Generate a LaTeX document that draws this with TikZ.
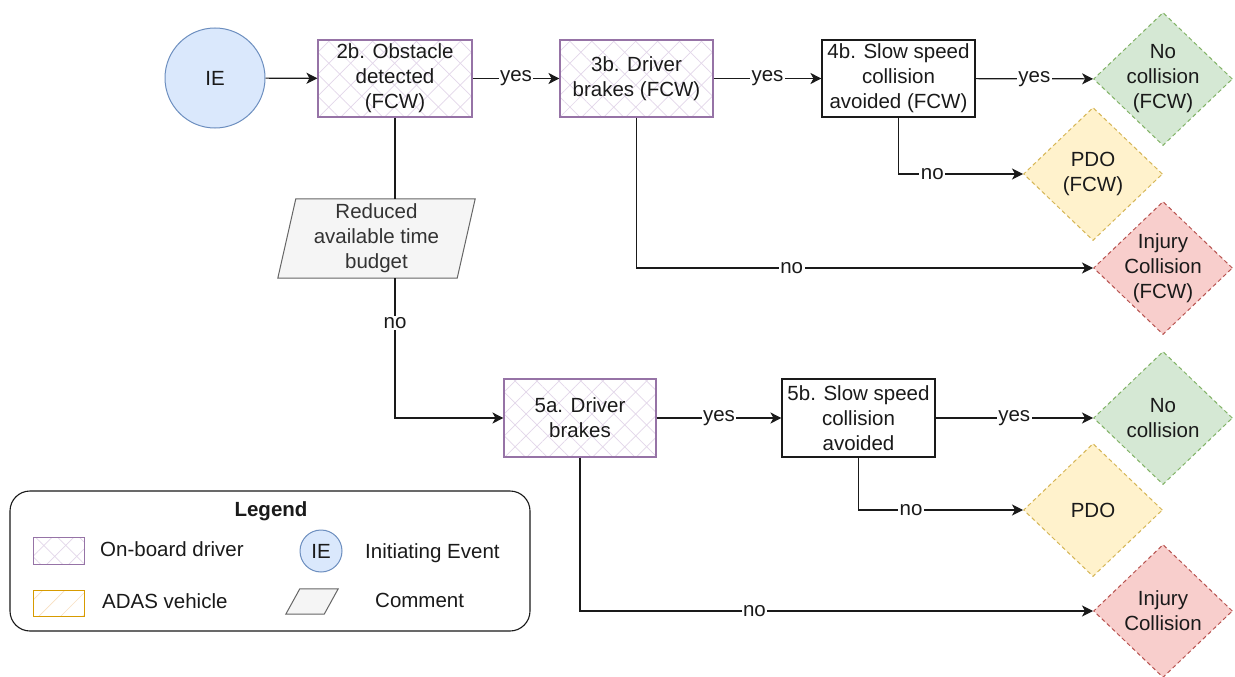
\documentclass[tikz,border=0pt]{standalone}
\usepackage{fontspec}
\setmainfont{Liberation Sans}
\usetikzlibrary{arrows.meta,shapes.geometric,patterns.meta,backgrounds}

\definecolor{ink}{HTML}{1A1A1A}
\definecolor{drvline}{HTML}{9673A6}
\definecolor{drvhatch}{HTML}{E3D7EA}
\definecolor{adasline}{HTML}{D79B00}
\definecolor{adashatch}{HTML}{F8E0C2}
\definecolor{iefill}{HTML}{DAE8FC}
\definecolor{ieline}{HTML}{6C8EBF}
\definecolor{cmfill}{HTML}{F5F5F5}
\definecolor{cmline}{HTML}{666666}
\definecolor{cmtext}{HTML}{333333}
\definecolor{okfill}{HTML}{D5E8D4}
\definecolor{okline}{HTML}{82B366}
\definecolor{pdofill}{HTML}{FFF2CC}
\definecolor{pdoline}{HTML}{D6B656}
\definecolor{injfill}{HTML}{F8CECC}
\definecolor{injline}{HTML}{B85450}

\tikzset{
  wire/.style={line width=1.2pt, draw=ink},
  arr/.style={wire, -{Stealth[length=11pt,width=11pt,inset=3pt]}},
  lbl/.style={fill=white, inner sep=1.5pt, text=ink},
  crosshatch/.style={
    preaction={fill=white},
    preaction={pattern={Lines[angle=45,distance=15.5pt,line width=0.7pt]}, pattern color=drvhatch},
    pattern={Lines[angle=-45,distance=15.5pt,line width=0.7pt]}, pattern color=drvhatch},
  driverbox/.style={rectangle, crosshatch, draw=drvline, line width=1.1pt,
    minimum width=154pt, minimum height=77pt, inner sep=0pt, align=center, text=ink},
  plainbox/.style={rectangle, fill=white, draw=ink, line width=1.1pt,
    minimum width=153pt, minimum height=77pt, inner sep=0pt, align=center, text=ink},
  outcome/.style={diamond, dash pattern=on 4pt off 3pt, line width=1pt,
    minimum width=139pt, minimum height=133pt, inner sep=0pt},
  okdia/.style={outcome, fill=okfill, draw=okline},
  pdodia/.style={outcome, fill=pdofill, draw=pdoline},
  injdia/.style={outcome, fill=injfill, draw=injline},
  inside/.style={label={[align=center, text=ink]center:{#1}}},
  ienode/.style={circle, fill=iefill, draw=ieline, line width=1pt, text=ink, inner sep=0pt},
  commentshape/.style={fill=cmfill, draw=cmline, line width=1pt},
  legtext/.style={anchor=west, text=ink, inner sep=0pt},
}

\begin{document}
\begin{tikzpicture}[x=1pt, y=-1pt, font=\fontsize{20.5}{25}\selectfont]
\useasboundingbox (0,0) rectangle (1235,677);

% --- upper branch (with forward collision warning) ---
\node[ienode, minimum size=100pt] (ie) at (215,78) {IE};
\node[driverbox] (ob) at (395,78.5) {2b. Obstacle\\detected\\(FCW)};
\node[driverbox, minimum width=153pt] (db) at (636.5,78.5) {3b. Driver\\brakes (FCW)};
\node[plainbox] (sa) at (898.5,78.5) {4b. Slow speed\\collision\\avoided (FCW)};

\node[okdia, inside={No\\collision\\(FCW)}] (nc1) at (1163,79) {};
\node[pdodia, inside={PDO\\(FCW)}] (pf1) at (1093,174) {};
\node[injdia, inside={Injury\\Collision\\(FCW)}] (ic1) at (1163,268) {};

% comment on the reduced time budget
\node[text=cmtext, align=center, inner sep=0pt, minimum width=179pt, minimum height=79pt]
  (cm) at (376.5,238.5) {Reduced\\available time\\budget};
\begin{scope}[on background layer]
  \fill[white] (0,0) rectangle (1235,677);
  \draw[commentshape] ([xshift=-9pt]cm.south west) -- ([xshift=9pt]cm.north west)
    -- ([xshift=9pt]cm.north east) -- ([xshift=-9pt]cm.south east) -- cycle;
\end{scope}

% --- lower branch (no warning) ---
\node[driverbox, minimum width=152pt, minimum height=78pt] (da) at (580,418) {5a. Driver\\brakes};
\node[plainbox, minimum height=78pt] (sb) at (858.5,418) {5b. Slow speed\\collision\\avoided};

\node[okdia, inside={No\\collision}] (nc2) at (1163,418) {};
\node[pdodia, inside={PDO}] (pf2) at (1093,510) {};
\node[injdia, inside={Injury\\Collision}] (ic2) at (1163,611) {};

% --- connectors ---
\draw[arr] (ie) -- (ob);
\draw[arr] (ob) -- node[lbl]{yes} (db);
\draw[arr] (db) -- node[lbl]{yes} (sa);
\draw[arr] (sa) -- node[lbl]{yes} (nc1);
\draw[arr] (sa.south) |- node[lbl, pos=0.636]{no} (pf1.west);
\draw[arr] (db.south) |- node[lbl, pos=0.67]{no} (ic1.west);
\draw[wire] (ob.south) -- (ob.south |- cm.north);
\draw[arr] (ob.south |- cm.south) -- node[lbl, pos=0.32]{no} (ob.south |- da.west) -- (da.west);

\draw[arr] (da) -- node[lbl]{yes} (sb);
\draw[arr] (sb) -- node[lbl]{yes} (nc2);
\draw[arr] (sb.south) |- node[lbl, pos=0.66]{no} (pf2.west);
\draw[arr] (da.south) |- node[lbl, pos=0.67]{no} (ic2.west);

% --- legend ---
\node[rectangle, rounded corners=20pt, draw=ink, line width=1.1pt, fill=white,
  minimum width=520pt, minimum height=140pt] (legend) at (270,561) {};
\node[text=ink, font=\fontsize{20.5}{25}\selectfont\bfseries] (legtitle) at (271,511) {Legend};

\node[rectangle, crosshatch, draw=drvline, line width=1pt, minimum width=51pt, minimum height=27pt]
  (swdrv) at (58.5,550.5) {};
\node[legtext] (txdrv) at (100,549) {On-board driver};

\node[rectangle, preaction={fill=white},
  pattern={Lines[angle=45,distance=15.5pt,line width=0.7pt]}, pattern color=adashatch,
  draw=adasline, line width=1pt, minimum width=51pt, minimum height=26pt]
  (swadas) at (58.5,603) {};
\node[legtext] (txadas) at (102,601) {ADAS vehicle};

\node[ienode, minimum size=42pt] (swie) at (321,551) {IE};
\node[legtext] (txie) at (365,553) {Initiating Event};

\node[inner sep=0pt, minimum width=38pt, minimum height=25pt] (swcm) at (312,601.5) {};
\draw[commentshape] ([xshift=-7pt]swcm.south west) -- ([xshift=7pt]swcm.north west)
  -- ([xshift=7pt]swcm.north east) -- ([xshift=-7pt]swcm.south east) -- cycle;
\node[legtext] (txcm) at (375,600) {Comment};
\end{tikzpicture}
\end{document}
